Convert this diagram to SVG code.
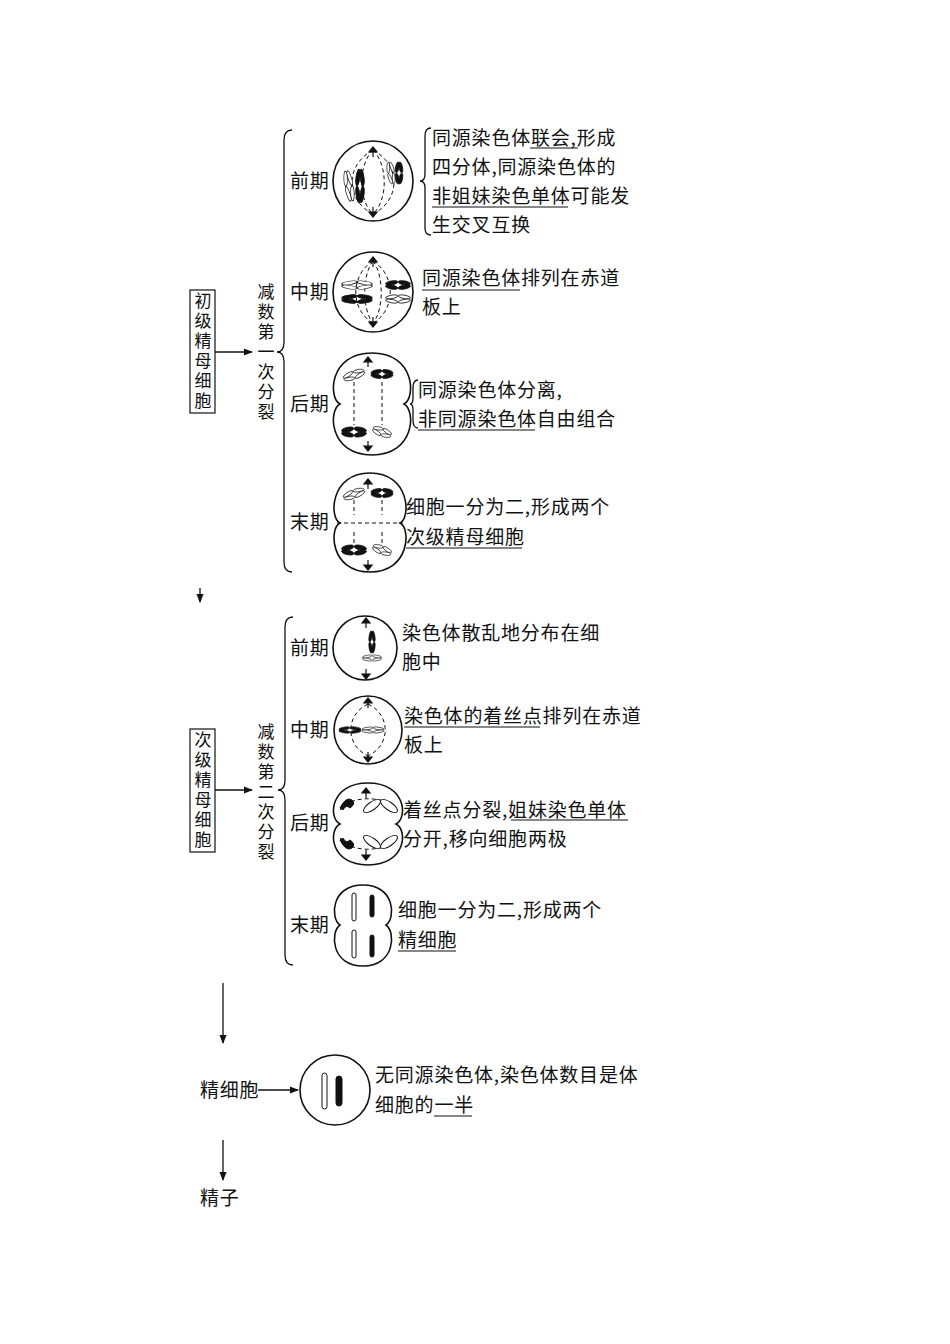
<svg xmlns="http://www.w3.org/2000/svg" width="950" height="1344" viewBox="0 0 950 1344">
<style>
text{font-family:"Noto Sans CJK SC","Noto Sans CJK JP",sans-serif;font-size:19px;fill:#111;letter-spacing:0.8px}
.v{font-size:17px;letter-spacing:3px;writing-mode:vertical-rl}
.ln{stroke:#111;stroke-width:1.3;fill:none}
.cell{stroke:#111;stroke-width:1.6;fill:#fff}
.dash{stroke:#111;stroke-width:1;fill:none;stroke-dasharray:4 3}
.u{stroke:#111;stroke-width:1.2}
.w{fill:#fff;stroke:#111;stroke-width:1}
.b{fill:#111;stroke:#111;stroke-width:1}
</style>
<defs>
<marker id="ah" viewBox="0 0 10 10" refX="9" refY="5" markerWidth="7" markerHeight="7" orient="auto"><path d="M0,1 L10,5 L0,9 Z" fill="#111"/></marker>
<g id="bw"><ellipse cx="-7" cy="-3" rx="7" ry="2.4" transform="rotate(-14 -7 -3)" class="w"/><ellipse cx="-7" cy="3" rx="7" ry="2.4" transform="rotate(14 -7 3)" class="w"/><ellipse cx="7" cy="-3" rx="7" ry="2.4" transform="rotate(14 7 -3)" class="w"/><ellipse cx="7" cy="3" rx="7" ry="2.4" transform="rotate(-14 7 3)" class="w"/></g>
<g id="bb"><ellipse cx="-7" cy="-3" rx="7" ry="2.8" transform="rotate(-14 -7 -3)" class="b"/><ellipse cx="-7" cy="3" rx="7" ry="2.8" transform="rotate(14 -7 3)" class="b"/><ellipse cx="7" cy="-3" rx="7" ry="2.8" transform="rotate(14 7 -3)" class="b"/><ellipse cx="7" cy="3" rx="7" ry="2.8" transform="rotate(-14 7 3)" class="b"/></g>
<path id="pole" d="M-4,0 L4,0 L0,-5 Z M0,0 L0,5" fill="#111" stroke="#111" stroke-width="1.2"/>
</defs>

<g id="connectors">
<line x1="215" y1="352" x2="252" y2="352" class="ln" marker-end="url(#ah)"/>
<path d="M292,130 Q284,130 284,140 L284,342 Q284,352 277,352 Q284,352 284,362 L284,562 Q284,572 292,572" class="ln"/>
<line x1="200" y1="588" x2="200" y2="602" class="ln" marker-end="url(#ah)"/>
<line x1="215" y1="790" x2="252" y2="790" class="ln" marker-end="url(#ah)"/>
<path d="M293,617 Q285,617 285,627 L285,780 Q285,790 278,790 Q285,790 285,800 L285,955 Q285,965 293,965" class="ln"/>
<line x1="223" y1="983" x2="223" y2="1043" class="ln" marker-end="url(#ah)"/>
<line x1="258" y1="1090" x2="298" y2="1090" class="ln" marker-end="url(#ah)"/>
<line x1="223" y1="1140" x2="223" y2="1180" class="ln" marker-end="url(#ah)"/>
<path d="M431,128 Q425,128 425,136 L425,174 Q425,181 420,181 Q425,181 425,188 L425,228 Q425,235 431,235" class="ln"/>
<path d="M418,380 Q413,380 413,388 L413,398 Q413,404 410,404 Q413,404 413,410 L413,420 Q413,428 418,428" class="ln"/>
</g>

<g id="primary">
<rect x="190" y="290" width="25" height="123" fill="none" stroke="#111" stroke-width="1.2"/>
<text class="v" x="203" y="292">初级精母细胞</text>
</g>
<g id="mei1">
<text class="v" x="266" y="283">减数第一次分裂</text>
</g>

<g id="m1-pro">
<text x="290" y="188">前期</text>
<circle cx="373" cy="181" r="40" class="cell"/>
<path d="M373,150 C345,165 345,200 373,214 M373,150 C401,165 401,200 373,214 M373,150 C358,165 358,200 373,214 M373,150 C388,165 388,200 373,214" class="dash"/>
<use href="#pole" x="373" y="152"/><use href="#pole" x="373" y="212" transform="rotate(180 373 212)"/>
<use href="#bw" transform="translate(349,186) rotate(80) scale(1.1,0.7)"/>
<use href="#bb" transform="translate(360,186) rotate(90) scale(1.2,0.7)"/>
<use href="#bw" transform="translate(391,173) rotate(80) scale(0.8,0.6)"/>
<use href="#bb" transform="translate(399,173) rotate(90) scale(0.8,0.6)"/>
<text x="432" y="145">同源染色体联会,形成</text>
<text x="432" y="174">四分体,同源染色体的</text>
<text x="432" y="203">非姐妹染色单体可能发</text>
<text x="432" y="232">生交叉互换</text>
<line x1="530" y1="148" x2="578" y2="148" class="u"/>
<line x1="432" y1="207" x2="568" y2="207" class="u"/>
</g>

<g id="m1-meta">
<text x="290" y="299">中期</text>
<circle cx="373" cy="292" r="40" class="cell"/>
<path d="M373,261 C350,275 350,310 373,323 M373,261 C396,275 396,310 373,323 M373,261 C362,275 362,310 373,323 M373,261 C384,275 384,310 373,323" class="dash"/>
<use href="#pole" x="373" y="262"/><use href="#pole" x="373" y="322" transform="rotate(180 373 322)"/>
<use href="#bw" transform="translate(357,285) scale(1.1,0.7)"/>
<use href="#bb" transform="translate(398,285) scale(0.9,0.7)"/>
<use href="#bb" transform="translate(357,299) scale(1.1,0.7)"/>
<use href="#bw" transform="translate(398,299) scale(0.9,0.7)"/>
<text x="422" y="285">同源染色体排列在赤道</text>
<text x="422" y="314">板上</text>
<line x1="422" y1="290" x2="520" y2="290" class="u"/>
</g>

<g id="m1-ana">
<text x="290" y="411">后期</text>
<path d="M372,353 C415,353 416,398 404,404 C416,410 415,455 372,455 C329,455 328,410 340,404 C328,398 329,353 372,353 Z" class="cell"/>
<line x1="354" y1="382" x2="354" y2="425" class="dash"/><line x1="382" y1="382" x2="382" y2="425" class="dash"/>
<use href="#pole" x="368" y="362"/><use href="#pole" x="368" y="446" transform="rotate(180 368 446)"/>
<use href="#bw" transform="translate(354,375) rotate(-20) scale(0.8,0.7)"/>
<use href="#bb" transform="translate(382,374) scale(0.8,0.7)"/>
<use href="#bb" transform="translate(354,432) scale(0.9,0.8)"/>
<use href="#bw" transform="translate(382,432) rotate(20) scale(0.7)"/>
<text x="418" y="397">同源染色体分离,</text>
<text x="418" y="426">非同源染色体自由组合</text>
<line x1="418" y1="430" x2="535" y2="430" class="u"/>
</g>

<g id="m1-telo">
<text x="290" y="529">末期</text>
<path d="M370,473 C410,473 411,518 400,523 C411,528 410,572 370,572 C330,572 329,528 340,523 C329,518 330,473 370,473 Z" class="cell"/>
<line x1="337" y1="523" x2="403" y2="523" class="dash"/>
<line x1="354" y1="500" x2="354" y2="515" class="dash"/><line x1="382" y1="500" x2="382" y2="515" class="dash"/>
<line x1="354" y1="532" x2="354" y2="545" class="dash"/><line x1="382" y1="532" x2="382" y2="545" class="dash"/>
<use href="#pole" x="368" y="484"/><use href="#pole" x="368" y="565" transform="rotate(180 368 565)"/>
<use href="#bw" transform="translate(354,494) rotate(-20) scale(0.8,0.7)"/>
<use href="#bb" transform="translate(382,493) scale(0.8,0.7)"/>
<use href="#bb" transform="translate(354,550) scale(0.9,0.8)"/>
<use href="#bw" transform="translate(382,550) rotate(20) scale(0.7)"/>
<text x="406" y="514">细胞一分为二,形成两个</text>
<text x="406" y="544">次级精母细胞</text>
<line x1="406" y1="548" x2="522" y2="548" class="u"/>
</g>

<g id="secondary">
<rect x="190" y="729" width="25" height="123" fill="none" stroke="#111" stroke-width="1.2"/>
<text class="v" x="203" y="731">次级精母细胞</text>
</g>
<g id="mei2">
<text class="v" x="266" y="723">减数第二次分裂</text>
</g>

<g id="m2-pro">
<text x="290" y="655">前期</text>
<circle cx="365" cy="648" r="32" class="cell"/>
<use href="#pole" x="366" y="623"/><use href="#pole" x="366" y="674" transform="rotate(180 366 674)"/>
<use href="#bb" transform="translate(372,642) rotate(90) scale(0.8,0.5)"/>
<use href="#bw" transform="translate(372,658) scale(0.7,0.5)"/>
<text x="402" y="640">染色体散乱地分布在细</text>
<text x="402" y="669">胞中</text>
</g>

<g id="m2-meta">
<text x="290" y="737">中期</text>
<circle cx="368" cy="730" r="34" class="cell"/>
<path d="M368,704 C345,715 345,745 368,756 M368,704 C391,715 391,745 368,756" class="dash"/>
<use href="#pole" x="368" y="703"/><use href="#pole" x="368" y="757" transform="rotate(180 368 757)"/>
<use href="#bb" transform="translate(350,730) scale(0.8,0.5)"/>
<use href="#bw" transform="translate(373,730) scale(0.8,0.5)"/>
<text x="404" y="723">染色体的着丝点排列在赤道</text>
<text x="404" y="752">板上</text>
<line x1="404" y1="727" x2="540" y2="727" class="u"/>
</g>

<g id="m2-ana">
<text x="290" y="830">后期</text>
<path d="M368,783 C406,783 408,818 396,824 C408,830 406,865 368,865 C330,865 328,830 340,824 C328,818 330,783 368,783 Z" class="cell"/>
<path d="M340,810 C350,795 385,795 398,810 M340,838 C350,853 385,853 398,838" class="dash"/>
<use href="#pole" x="366" y="793"/><use href="#pole" x="366" y="855" transform="rotate(180 366 855)"/>
<path d="M340,808 Q346,796 352,800 Q356,804 350,808 Q346,804 343,810 Z" class="b"/>
<ellipse cx="372" cy="806" rx="10" ry="4" transform="rotate(-35 372 806)" class="w"/>
<ellipse cx="389" cy="806" rx="10" ry="4" transform="rotate(35 389 806)" class="w"/>
<path d="M340,840 Q346,852 352,848 Q356,844 350,840 Q346,844 343,838 Z" class="b"/>
<ellipse cx="372" cy="842" rx="10" ry="4" transform="rotate(35 372 842)" class="w"/>
<ellipse cx="389" cy="842" rx="10" ry="4" transform="rotate(-35 389 842)" class="w"/>
<text x="403" y="817">着丝点分裂,姐妹染色单体</text>
<text x="403" y="846">分开,移向细胞两极</text>
<line x1="511" y1="820" x2="628" y2="820" class="u"/>
</g>

<g id="m2-telo">
<text x="290" y="932">末期</text>
<path d="M363,885 C395,885 396,918 386,925 C396,932 395,966 363,966 C331,966 330,932 340,925 C330,918 331,885 363,885 Z" class="cell"/>
<rect x="352" y="893" width="4" height="28" rx="2" class="w"/>
<rect x="370" y="895" width="4" height="22" rx="2" class="b"/>
<rect x="352" y="930" width="4" height="28" rx="2" class="w"/>
<rect x="370" y="935" width="4" height="22" rx="2" class="b"/>
<text x="398" y="917">细胞一分为二,形成两个</text>
<text x="398" y="947">精细胞</text>
<line x1="398" y1="951" x2="456" y2="951" class="u"/>
</g>

<g id="spermatid">
<text x="200" y="1097">精细胞</text>
<circle cx="335" cy="1090" r="35" class="cell"/>
<rect x="322" y="1073" width="5" height="36" rx="2.5" class="w"/>
<rect x="336" y="1076" width="6" height="30" rx="3" class="b"/>
<text x="375" y="1082">无同源染色体,染色体数目是体</text>
<text x="375" y="1112">细胞的一半</text>
<line x1="434" y1="1116" x2="472" y2="1116" class="u"/>
</g>
<g id="sperm"><text x="200" y="1205">精子</text></g>
</svg>
